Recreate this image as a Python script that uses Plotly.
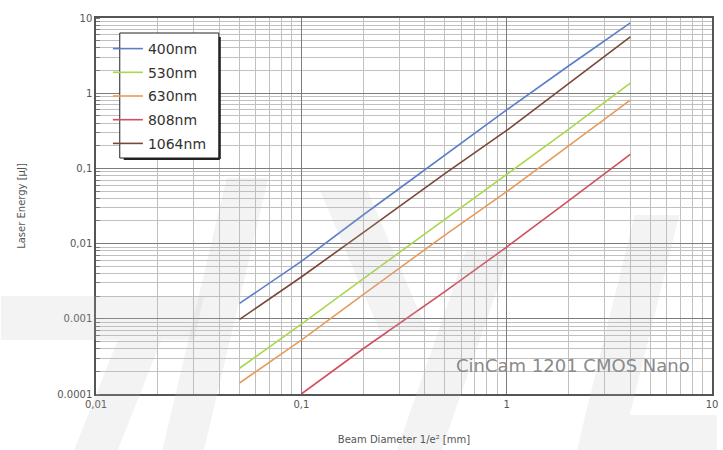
import plotly.graph_objects as go

# Data (beam diameter [mm] vs laser energy [µJ])
x_main = [0.05, 0.1, 0.2, 0.5, 1, 2, 4]
y_400 = [0.0016, 0.0058, 0.024, 0.15, 0.6, 2.3, 8.6]
y_530 = [0.00022, 0.00085, 0.0034, 0.021, 0.082, 0.33, 1.36]
y_630 = [0.00014, 0.00052, 0.0021, 0.013, 0.049, 0.2, 0.81]
x_808 = [0.1, 0.2, 0.5, 1, 2, 4]
y_808 = [0.0001, 0.0004, 0.0023, 0.009, 0.037, 0.154]
y_1064 = [0.00098, 0.0036, 0.014, 0.085, 0.32, 1.35, 5.6]

x_tickvals = [0.01, 0.1, 1, 10]
x_ticktext = ["0,01", "0,1", "1", "10"]
y_tickvals = [0.0001, 0.001, 0.01, 0.1, 1, 10]
y_ticktext = ["0.0001", "0.001", "0,01", "0,1", "1", "10"]

series = [
    ("400nm", x_main, y_400, "#5b7ec9"),
    ("530nm", x_main, y_530, "#a9d84c"),
    ("630nm", x_main, y_630, "#e89a5c"),
    ("808nm", x_808, y_808, "#d24e5e"),
    ("1064nm", x_main, y_1064, "#7a4636"),
]

W, H = 723, 450
ML, MR, MT, MB = 96, 5, 18, 56
PW, PH = W - ML - MR, H - MT - MB


def px(xp):
    return (xp - ML) / PW


def py(yp):
    return (H - MB - yp) / PH


fig = go.Figure()
for i, (name, xs, ys, col) in enumerate(series):
    fig.add_trace(go.Scatter(x=xs, y=ys, mode="lines", name=name,
                             legendgroup=str(i),
                             line=dict(color=col, width=1.6)))

axis_common = dict(
    type="log",
    showline=True, linecolor="#555", linewidth=1.5, mirror=True,
    showgrid=True, gridcolor="#7c7c7c", gridwidth=1.3,
    ticks="", zeroline=False,
    tickfont=dict(family="DejaVu Sans", size=10, color="#555"),
)

fig.update_xaxes(**axis_common, range=[-2, 1],
                 tickmode="array", tickvals=x_tickvals, ticktext=x_ticktext,
                 ticklabeloverflow="allow",
                 minor=dict(showgrid=True, gridcolor="#c0c0c0", gridwidth=1,
                            ticks="", dtick="D1"),
                 title=dict(text="Beam Diameter 1/e² [mm]",
                            font=dict(family="DejaVu Sans", size=10, color="#555"),
                            standoff=27))
fig.update_yaxes(**axis_common, range=[-4, 1],
                 tickmode="array", tickvals=y_tickvals, ticktext=y_ticktext,
                 minor=dict(showgrid=True, gridcolor="#c0c0c0", gridwidth=1,
                            ticks="inside", ticklen=4, tickcolor="#777",
                            dtick="D1"),
                 title=dict(text="Laser Energy [µJ]",
                            font=dict(family="DejaVu Sans", size=10, color="#555"),
                            standoff=30))

# faint watermark strokes (background decoration)
wm = [
    [(0, 296), (205, 296), (195, 340), (0, 340)],
    [(118, 340), (162, 340), (118, 450), (74, 450)],
    [(228, 178), (270, 178), (205, 450), (163, 450)],
    [(322, 190), (370, 190), (430, 330), (382, 330)],
    [(470, 250), (515, 250), (445, 450), (400, 450)],
    [(640, 215), (685, 215), (635, 415), (590, 415)],
    [(590, 415), (723, 415), (723, 450), (582, 450)],
]
for poly in wm:
    path = "M " + " L ".join(f"{px(a):.4f},{py(b):.4f}" for a, b in poly) + " Z"
    fig.add_shape(type="path", xref="paper", yref="paper", path=path,
                  fillcolor="rgba(190,190,190,0.18)", line=dict(width=0),
                  layer="above")

fig.add_annotation(text="CinCam 1201 CMOS Nano", xref="paper", yref="paper",
                   x=px(698), y=py(365), xanchor="right", yanchor="middle",
                   showarrow=False,
                   font=dict(family="DejaVu Sans", size=18, color="#8a8a8a"))

# legend frame with a heavier right/bottom edge
fig.add_shape(type="rect", xref="paper", yref="paper",
              x0=px(120), x1=px(220), y0=py(158), y1=py(33),
              line=dict(color="#222", width=1), fillcolor="white", layer="above")
fig.add_shape(type="line", xref="paper", yref="paper",
              x0=px(221), x1=px(221), y0=py(37), y1=py(159),
              line=dict(color="#222", width=2), layer="above")
fig.add_shape(type="line", xref="paper", yref="paper",
              x0=px(124), x1=px(221), y0=py(159), y1=py(159),
              line=dict(color="#222", width=2), layer="above")

fig.update_layout(
    width=W, height=H,
    margin=dict(l=ML, r=MR, t=MT, b=MB),
    paper_bgcolor="white", plot_bgcolor="white",
    showlegend=True,
    legend=dict(x=px(108), y=py(33), xanchor="left", yanchor="top",
                bgcolor="rgba(0,0,0,0)", borderwidth=0,
                tracegroupgap=2.5,
                font=dict(family="DejaVu Sans", size=14, color="#333")),
)

fig.write_html("out.html",
               config={"displayModeBar": False},
               post_script="document.body.style.margin='0px';"
                           "document.body.style.overflow='hidden';")
